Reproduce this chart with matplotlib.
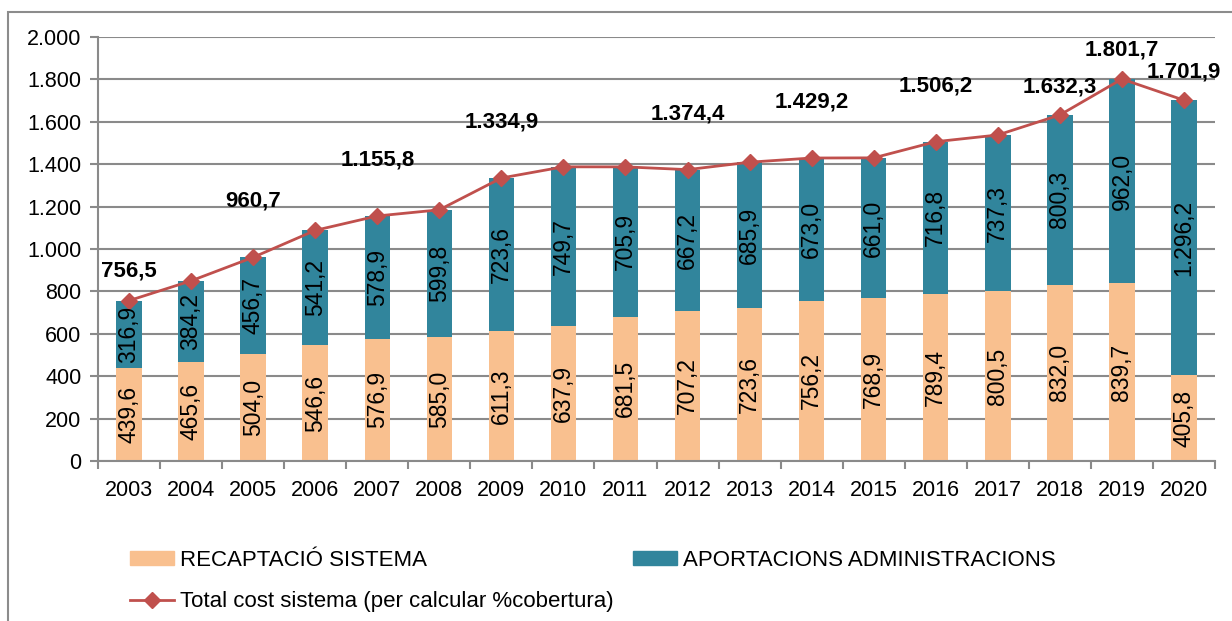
import matplotlib
matplotlib.use("Agg")
import matplotlib.pyplot as plt
from matplotlib.patches import Rectangle, Patch
from matplotlib.lines import Line2D

years = ["2003", "2004", "2005", "2006", "2007", "2008", "2009", "2010", "2011",
         "2012", "2013", "2014", "2015", "2016", "2017", "2018", "2019", "2020"]
recaptacio = [439.6, 465.6, 504.0, 546.6, 576.9, 585.0, 611.3, 637.9, 681.5,
              707.2, 723.6, 756.2, 768.9, 789.4, 800.5, 832.0, 839.7, 405.8]
aportacions = [316.9, 384.2, 456.7, 541.2, 578.9, 599.8, 723.6, 749.7, 705.9,
               667.2, 685.9, 673.0, 661.0, 716.8, 737.3, 800.3, 962.0, 1296.2]
total_cost = [756.5, 849.8, 960.7, 1087.8, 1155.8, 1184.8, 1334.9, 1387.6, 1387.4,
              1374.4, 1409.5, 1429.2, 1429.9, 1506.2, 1537.8, 1632.3, 1801.7, 1701.9]
labelled_years = ["2003", "2005", "2007", "2009", "2012", "2014", "2016", "2018", "2019", "2020"]
# vertical offset (px) of total labels above the point
label_offset = {"2003": 30, "2018": 28, "2019": 29, "2020": 28}
default_offset = 56

plt.rcParams['font.family'] = ['Liberation Sans', 'DejaVu Sans']

ORANGE = "#F9C08F"
TEAL = "#31859C"
RED = "#C0504D"
GRID = "#8A8A8A"

def fmt(v):
    s = f"{v:,.1f}"
    return s.replace(",", "X").replace(".", ",").replace("X", ".")

fig = plt.figure(figsize=(12.32, 6.21), dpi=100)
ax = fig.add_axes([98/1232, 1-461/621, (1215-98)/1232, (461-37)/621])

x = list(range(len(years)))
w = 0.41
ax.bar(x, recaptacio, width=w, color=ORANGE, zorder=2)
ax.bar(x, aportacions, width=w, bottom=recaptacio, color=TEAL, zorder=2)
ax.plot(x, total_cost, color=RED, lw=2, marker='D', markersize=8, zorder=4)

for i in x:
    ax.text(i, recaptacio[i]/2, fmt(recaptacio[i]), rotation=90, ha='center',
            va='center', fontsize=16.5, color='black', zorder=5)
    ax.text(i, recaptacio[i] + aportacions[i]/2, fmt(aportacions[i]), rotation=90,
            ha='center', va='center', fontsize=16.5, color='black', zorder=5)

for i, y in enumerate(years):
    if y in labelled_years:
        off = label_offset.get(y, default_offset)
        ax.annotate(fmt(total_cost[i]), (i, total_cost[i]), xytext=(0, off * 0.72),
                    textcoords='offset points', ha='center', va='center',
                    fontsize=16, fontweight='bold', zorder=6)

ax.set_xlim(-0.5, len(years) - 0.5)
ax.set_ylim(0, 2000)
ax.set_yticks(range(0, 2001, 200))
ax.set_yticklabels([fmt(v)[:-2] for v in range(0, 2001, 200)], fontsize=15.5)
ax.set_xticks(x)
ax.set_xticklabels(years, fontsize=15.5)
ax.set_xticks([i - 0.5 for i in range(len(years) + 1)], minor=True)
ax.tick_params(axis='x', which='major', length=0, pad=14)
ax.tick_params(axis='x', which='minor', length=6, width=1.5, color=GRID)
ax.tick_params(axis='y', length=6, width=1.5, color=GRID, pad=6)
ax.yaxis.grid(True, color=GRID, lw=1.5, zorder=0)
ax.set_axisbelow(True)
for s in ['top', 'right']:
    ax.spines[s].set_visible(False)
for s in ['left', 'bottom']:
    ax.spines[s].set_color(GRID)
    ax.spines[s].set_linewidth(1.5)

handles = [Patch(color=ORANGE, label="RECAPTACIÓ SISTEMA"),
           Line2D([], [], color=RED, lw=2, marker='D', markersize=8,
                  label="Total cost sistema (per calcular %cobertura)"),
           Patch(color=TEAL, label="APORTACIONS ADMINISTRACIONS")]
fig.legend(handles=handles, ncol=2, loc='upper left',
           bbox_to_anchor=(110/1232, 1-530/621), frameon=False, fontsize=16,
           handlelength=2.0, handleheight=0.6, handletextpad=0.25,
           labelspacing=0.9, columnspacing=0.85)

fig.patches.append(Rectangle((8/1232, -0.05), 1.1, 1.05 - 12/621,
                             transform=fig.transFigure, fill=False,
                             edgecolor="#8C8C8C", lw=1.5))

fig.savefig("out.png", dpi=100)
